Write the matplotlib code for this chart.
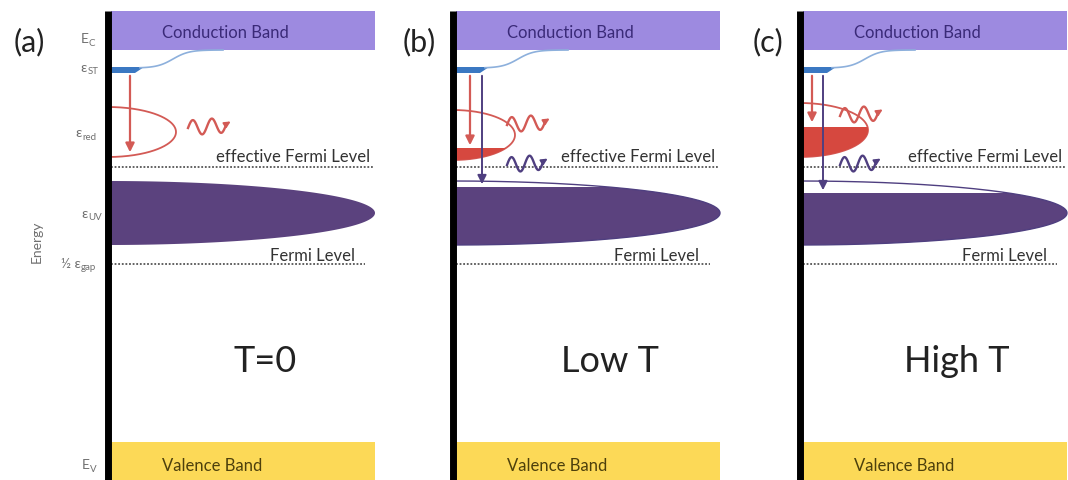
import numpy as np
import matplotlib.pyplot as plt
from matplotlib.patches import Rectangle, Polygon

plt.rcParams['font.family'] = ['Lato', 'DejaVu Sans']

# panels: (a) T=0, (b) low T, (c) high T
panel_labels = ['(a)', '(b)', '(c)']
temp_labels = ['T=0', 'Low T', 'High T']
panel_x0 = [108, 453, 800]          # position of the energy axis of each panel
label_x = [29, 419, 768]
band_width = 267

# energy levels (screen units, top = high energy)
E_C = [11, 50]                      # conduction band top / bottom
eps_ST = 70                         # shallow trap level
eps_red = [132, 135, 130]           # red emission centre per panel
red_hh = [25, 25, 27]
red_hw = [68, 62, 68]
red_fill_top = [None, 148, 127]     # filled part of the red distribution
eff_fermi = 167
eps_UV = 213
uv_hh = 32
uv_fill_top = [None, 187, 193]      # depletion of the UV band
fermi = 264
E_V = [442, 480]

red_arrow_x = [22, 17, 12]
red_arrow_end = [155, 148, 125]
purple_arrow_x = [None, 29, 23]
purple_arrow_end = [None, 187, 193]
red_wave = [(80, 125, 128), (54, 99, 125), (40, 85, 116)]
purple_wave = [None, (54, 97, 165), (40, 83, 165)]

cb_col = '#9d8ae0'
cb_txt = '#3a2a78'
uv_col = '#5b427e'
red_col = '#d6483f'
red_line = '#d35a55'
pur_line = '#4f3f80'
vb_col = '#fcd957'
vb_txt = '#4d400c'
blue_col = '#3b78c2'
gray = '#707070'

fig = plt.figure(figsize=(10.68, 4.8), dpi=100)
ax = fig.add_axes([0, 0, 1, 1])
ax.set_xlim(0, 1068)
ax.set_ylim(480, 0)
ax.axis('off')


def half_ellipse(x0, yc, hw, hh, n=200):
    t = np.linspace(-np.pi / 2, np.pi / 2, n)
    return x0 + hw * np.cos(t), yc + hh * np.sin(t)


def wave(xa, xb, yc, color):
    xs = np.linspace(xa, xb - 7, 120)
    ys = yc - 7.5 * np.sin(2 * np.pi * 2 * (xs - xa) / (xb - 7 - xa)) - 0.08 * (xs - xa)
    ax.plot(xs, ys, color=color, lw=1.7, zorder=5)
    ax.annotate('', xy=(xb, ys[-1] - 5), xytext=(xs[-1] - 1, ys[-1]),
                arrowprops=dict(arrowstyle='-|>', color=color, lw=1.3, mutation_scale=9),
                zorder=5)


for i, x0 in enumerate(panel_x0):
    xr = x0 + band_width
    # energy axis
    ax.plot([x0, x0], [11, 480], color='black', lw=5, solid_capstyle='butt', zorder=10)
    ax.text(label_x[i], 42, panel_labels[i], fontsize=22, ha='center', va='center', color='#222')

    # conduction / valence bands
    ax.add_patch(Rectangle((x0 + 3, E_C[0]), band_width - 3, E_C[1] - E_C[0], color=cb_col, lw=0))
    ax.text(x0 + 117, 33, 'Conduction Band', fontsize=12, ha='center', va='center', color=cb_txt)
    ax.add_patch(Rectangle((x0 + 3, E_V[0]), band_width - 3, E_V[1] - E_V[0], color=vb_col, lw=0))
    ax.text(x0 + 104, 466, 'Valence Band', fontsize=12, ha='center', va='center', color=vb_txt)

    # shallow trap and its link to the conduction band
    ax.add_patch(Polygon([(x0, eps_ST - 3), (x0 + 36, eps_ST - 3), (x0 + 27, eps_ST + 3), (x0, eps_ST + 3)],
                         closed=True, color=blue_col, lw=0, zorder=4))
    xs = np.linspace(x0 + 32, x0 + 115, 100)
    ys = eps_ST - 2 - (eps_ST - 2 - E_C[1]) * (0.5 + 0.5 * np.tanh((xs - (x0 + 65)) / 16))
    ax.plot(xs, ys, color='#8db0dc', lw=1.2, zorder=4)

    # UV band
    ux, uy = half_ellipse(x0, eps_UV, band_width, uv_hh)
    uv = Polygon(np.column_stack([ux, uy]), closed=True, color=uv_col, lw=0, zorder=3)
    ax.add_patch(uv)
    if uv_fill_top[i] is not None:
        clip = Rectangle((x0, uv_fill_top[i]), band_width + 5, 100, transform=ax.transData)
        uv.set_clip_path(clip)
        ax.plot(ux, uy, color=pur_line, lw=1.0, zorder=3)

    # red emission centre
    rx, ry = half_ellipse(x0, eps_red[i], red_hw[i], red_hh[i])
    ax.plot(rx, ry, color=red_line, lw=1.3, zorder=4)
    if red_fill_top[i] is not None:
        red = Polygon(np.column_stack([rx, ry]), closed=True, color=red_col, lw=0, zorder=4)
        ax.add_patch(red)
        red.set_clip_path(Rectangle((x0, red_fill_top[i]), red_hw[i] + 5, 60, transform=ax.transData))

    # Fermi levels
    ax.plot([x0 + 3, xr - 2], [eff_fermi, eff_fermi], color='#555', lw=1.3, ls=(0, (1, 1)), zorder=2)
    ax.text(x0 + 185, 157, 'effective Fermi Level', fontsize=12, ha='center', va='center', color='#333')
    ax.plot([x0 + 3, xr - 10], [fermi, fermi], color='#555', lw=1.3, ls=(0, (1, 1)), zorder=2)
    ax.text(x0 + 204, 256, 'Fermi Level', fontsize=12, ha='center', va='center', color='#333')

    # transitions
    ax.annotate('', xy=(x0 + red_arrow_x[i], red_arrow_end[i]), xytext=(x0 + red_arrow_x[i], eps_ST + 3),
                arrowprops=dict(arrowstyle='-|>', color=red_line, lw=1.6, mutation_scale=13), zorder=6)
    if purple_arrow_end[i] is not None:
        ax.annotate('', xy=(x0 + purple_arrow_x[i], purple_arrow_end[i]),
                    xytext=(x0 + purple_arrow_x[i], eps_ST + 3),
                    arrowprops=dict(arrowstyle='-|>', color=pur_line, lw=1.4, mutation_scale=13), zorder=6)
    wa, wb, wy = red_wave[i]
    wave(x0 + wa, x0 + wb, wy, red_line)
    if purple_wave[i] is not None:
        wa, wb, wy = purple_wave[i]
        wave(x0 + wa, x0 + wb, wy, pur_line)

    ax.text(x0 + 157, 362, temp_labels[i], fontsize=26, ha='center', va='center', color='#222')


# level labels on the first panel
def level_label(x, y, main, sub):
    ax.text(x, y, main, fontsize=10, ha='left', va='center', color=gray)
    ax.text(x + 7.5 + (len(main) - 1) * 6, y + 4, sub, fontsize=7, ha='left', va='center', color=gray)


level_label(81, 39, 'E', 'C')
level_label(80, 68, 'ε', 'ST')
level_label(75, 133, 'ε', 'red')
level_label(81, 214, 'ε', 'UV')
level_label(61, 264, '½ ε', 'gap')
level_label(82, 465, 'E', 'V')
ax.text(37, 242, 'Energy', fontsize=10, rotation=90, ha='center', va='center', color=gray)

fig.savefig('out.png', dpi=100)
